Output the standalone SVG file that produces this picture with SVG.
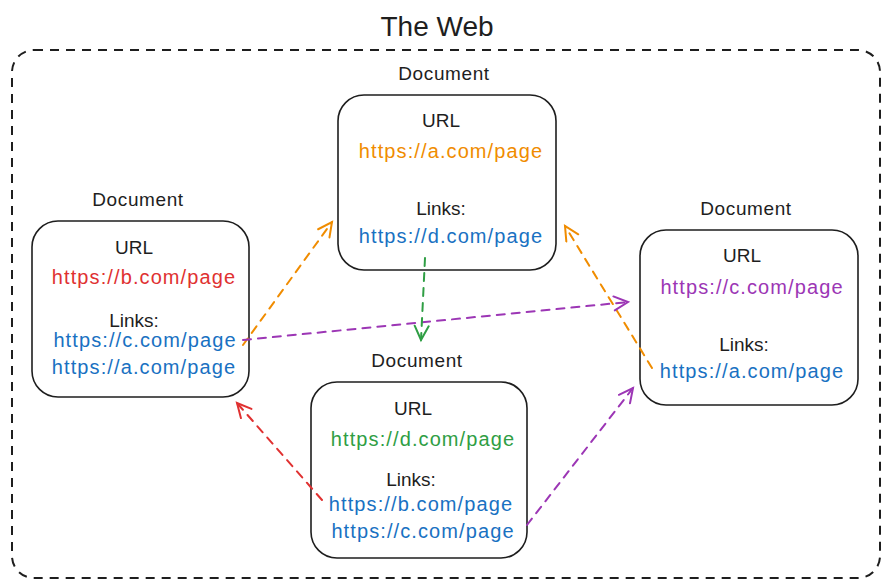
<svg xmlns="http://www.w3.org/2000/svg" width="890" height="588" viewBox="0 0 890 588">
<defs>
<style>
text{font-family:"Liberation Sans","Noto Sans",sans-serif;text-anchor:middle;fill:#1e1e1e}
.t{font-size:28px}
.d{font-size:19px;letter-spacing:0.6px}
.l{font-size:19px}
.u{font-size:20px;letter-spacing:1.1px}
.box{fill:#fff;stroke:#1e1e1e;stroke-width:1.6}
.c{fill:none;stroke-width:2;stroke-dasharray:8 7;stroke-linecap:round}
</style>
<marker id="ao" markerUnits="userSpaceOnUse" markerWidth="20" markerHeight="20" refX="16" refY="8" orient="auto"><path d="M2,1 L16,8 L2,15" fill="none" stroke="#f08c00" stroke-width="2" stroke-linecap="round"/></marker>
<marker id="ap" markerUnits="userSpaceOnUse" markerWidth="20" markerHeight="20" refX="16" refY="8" orient="auto"><path d="M2,1 L16,8 L2,15" fill="none" stroke="#9c36b5" stroke-width="2" stroke-linecap="round"/></marker>
<marker id="ar" markerUnits="userSpaceOnUse" markerWidth="20" markerHeight="20" refX="16" refY="8" orient="auto"><path d="M2,1 L16,8 L2,15" fill="none" stroke="#e03131" stroke-width="2" stroke-linecap="round"/></marker>
<marker id="ag" markerUnits="userSpaceOnUse" markerWidth="20" markerHeight="20" refX="16" refY="8" orient="auto"><path d="M2,1 L16,8 L2,15" fill="none" stroke="#2f9e44" stroke-width="2" stroke-linecap="round"/></marker>
</defs>
<rect width="890" height="588" fill="#fff"/>
<g id="web">
<text class="t" x="437" y="36">The Web</text>
<rect x="12" y="50" width="868" height="528" rx="22" fill="none" stroke="#1e1e1e" stroke-width="2" stroke-dasharray="9 7"/>
</g>
<g id="doc-b">
<text class="d" x="138" y="206">Document</text>
<rect class="box" x="32" y="221" width="217" height="176" rx="26"/>
<text class="l" x="134" y="254">URL</text>
<text class="u" x="144" y="284" fill="#e03131" style="fill:#e03131">https://b.com/page</text>
<text class="l" x="134" y="327">Links:</text>
<text class="u" x="145" y="347" style="fill:#1971c2">https://c.com/page</text>
<text class="u" x="144" y="374" style="fill:#1971c2">https://a.com/page</text>
</g>
<g id="doc-a">
<text class="d" x="444" y="80">Document</text>
<rect class="box" x="338" y="95" width="218" height="175" rx="26"/>
<text class="l" x="441" y="127">URL</text>
<text class="u" x="451" y="158" style="fill:#f08c00">https://a.com/page</text>
<text class="l" x="441" y="215">Links:</text>
<text class="u" x="451" y="243" style="fill:#1971c2">https://d.com/page</text>
</g>
<g id="doc-d">
<text class="d" x="417" y="367">Document</text>
<rect class="box" x="311" y="382" width="216" height="176" rx="26"/>
<text class="l" x="413" y="415">URL</text>
<text class="u" x="423" y="446" style="fill:#2f9e44">https://d.com/page</text>
<text class="l" x="411" y="486">Links:</text>
<text class="u" x="421" y="511" style="fill:#1971c2">https://b.com/page</text>
<text class="u" x="423" y="538" style="fill:#1971c2">https://c.com/page</text>
</g>
<g id="doc-c">
<text class="d" x="746" y="215">Document</text>
<rect class="box" x="640" y="230" width="218" height="175" rx="26"/>
<text class="l" x="742" y="262">URL</text>
<text class="u" x="752" y="294" style="fill:#9c36b5">https://c.com/page</text>
<text class="l" x="744" y="351">Links:</text>
<text class="u" x="752" y="378" style="fill:#1971c2">https://a.com/page</text>
</g>
<g id="connectors">
<path class="c" d="M243,345 L332,222" stroke="#f08c00" marker-end="url(#ao)"/>
<path class="c" d="M652,368 L565,226" stroke="#f08c00" marker-end="url(#ao)"/>
<path class="c" d="M243,340 L628,302" stroke="#9c36b5" marker-end="url(#ap)"/>
<path class="c" d="M527,525 L633,388" stroke="#9c36b5" marker-end="url(#ap)"/>
<path class="c" d="M322,500 L237,403" stroke="#e03131" marker-end="url(#ar)"/>
<path class="c" d="M425,258 L421,340" stroke="#2f9e44" marker-end="url(#ag)"/>
</g>
</svg>
